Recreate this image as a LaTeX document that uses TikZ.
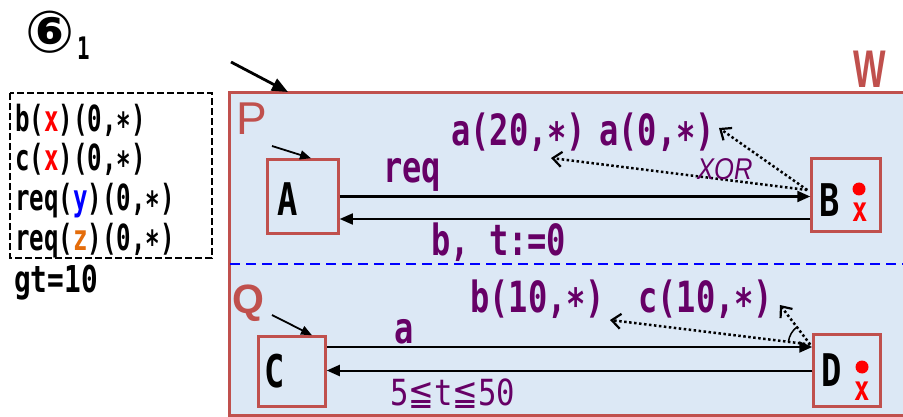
\documentclass[tikz,border=0pt]{standalone}
\usepackage{fontspec}
\usetikzlibrary{arrows.meta,calc}
\newfontfamily\boxfont[FakeStretch=0.67]{DejaVu Sans Mono}
\newfontfamily\gtfont[FakeStretch=0.75]{DejaVu Sans Mono}
\newfontfamily\labfont[FakeStretch=0.745]{DejaVu Sans Mono}
\newfontfamily\tgfont[FakeStretch=0.85]{DejaVu Sans Mono}
\newfontfamily\statefont[FakeStretch=0.75]{DejaVu Sans Mono}
\newfontfamily\symfont[FakeStretch=0.85]{DejaVu Sans}
\newfontfamily\circfont{DejaVu Sans}
\newfontfamily\xorfont[FakeStretch=0.85]{Liberation Sans}
\newfontfamily\pqfont{Liberation Sans}
\newfontfamily\wfont[FakeStretch=0.65]{Liberation Sans}
\definecolor{redbrown}{RGB}{192,80,77}
\definecolor{lblue}{RGB}{220,232,245}
\definecolor{purp}{RGB}{102,0,102}
\definecolor{orng}{RGB}{228,108,10}
\newcommand{\myast}{\raisebox{-0.18em}{*}}
\newcommand{\myle}{{\symfont ≦}}
\tikzset{
  stbox/.style={draw=redbrown, line width=2.5pt, inner sep=0pt, outer sep=1.25pt},
  lefttxt/.style={inner sep=0pt, anchor=base west, font=\boxfont\bfseries\fontsize{36}{40}\selectfont},
  plab/.style={inner sep=0pt, anchor=base west, text=purp, font=\labfont\bfseries\fontsize{43}{46}\selectfont},
  stlet/.style={inner sep=0pt, anchor=base, font=\statefont\bfseries\fontsize{45}{48}\selectfont},
  rdot/.style={circle, fill=red, minimum size=13pt, inner sep=0pt},
  rx/.style={inner sep=0pt, anchor=base, text=red, font=\statefont\bfseries\fontsize{34}{36}\selectfont},
  solarr/.style={line width=2.2pt, -{Triangle[length=13pt,width=11pt]}},
  dotarr/.style={line width=2.5pt, dash pattern=on 2.5pt off 2.5pt, -{Straight Barb[length=9pt,width=15pt,line width=2.2pt]}},
  initarr/.style={line width=1.8pt, -{Triangle[length=11pt,width=9pt]}}
}
\begin{document}
\begin{tikzpicture}[x=1pt,y=-1pt]
\useasboundingbox (0,0) rectangle (903,417);
\fill[white] (0,0) rectangle (903,417);
% title
\node[inner sep=0pt, font=\circfont\bfseries\fontsize{58}{60}\selectfont] (six) at (50,32.5) {⑥};
\node[inner sep=0pt, anchor=base west, font=\boxfont\bfseries\fontsize{31}{34}\selectfont] (sub) at (77,60) {1};
% left dashed box
\draw[line width=2.8pt, dash pattern=on 7pt off 3pt] (10,93) rectangle (212,258);
\node[lefttxt] (l1) at (15,132) {b(\textcolor{red}{x})(0,\myast)};
\node[lefttxt] (l2) at (15,171) {c(\textcolor{red}{x})(0,\myast)};
\node[lefttxt] (l3) at (15,211) {req(\textcolor{blue}{y})(0,\myast)};
\node[lefttxt] (l4) at (15,250) {req(\textcolor{orng}{z})(0,\myast)};
\node[inner sep=0pt, anchor=base west, font=\gtfont\bfseries\fontsize{37}{40}\selectfont] (gt) at (14,292) {gt=10};
% W frame
\draw[draw=redbrown, fill=lblue, line width=3pt] (229,93) rectangle (915,415);
\node[inner sep=0pt, anchor=base west, text=redbrown, font=\wfont\bfseries\fontsize{53}{56}\selectfont] (W) at (853,88) {W};
\coordinate (w0) at (231,62);
\coordinate (w1) at (288,92);
\draw[line width=2.8pt, -{Triangle[length=16pt,width=13pt]}] (w0) -- (w1);
\draw[blue, line width=2pt, dash pattern=on 10pt off 6pt] (230,264) -- (903,264);
\node[inner sep=0pt, anchor=base west, text=redbrown, font=\pqfont\fontsize{46}{50}\selectfont] (P) at (236,135) {P};
\node[inner sep=0pt, anchor=base west, text=redbrown, font=\pqfont\bfseries\fontsize{41}{44}\selectfont] (Q) at (232,313) {Q};
% states
\node[stbox, minimum width=71pt, minimum height=74pt] (A) at (303,196.5) {};
\node[stbox, minimum width=69pt, minimum height=73pt] (B) at (846,195) {};
\node[stbox, minimum width=67pt, minimum height=70pt] (C) at (292,371.5) {};
\node[stbox, minimum width=67pt, minimum height=72pt] (D) at (847,370.5) {};
\node[stlet] (Atxt) at (287.5,215) {A};
\node[stlet] (Btxt) at (830,217) {B};
\node[stlet] (Ctxt) at (275,387) {C};
\node[stlet] (Dtxt) at (832,386) {D};
\node[rdot] (bdot) at (859,189) {};
\node[rx] (bx) at (860,222) {x};
\node[rdot] (ddot) at (862,367) {};
\node[rx] (dx) at (862,400) {x};
% initial arrows
\coordinate (ia) at (272,146);
\coordinate (ic) at (272,315);
\draw[initarr] (ia) -- ([xshift=8pt]A.north);
\draw[initarr] (ic) -- ([xshift=20pt]C.north);
% transitions P
\draw[solarr] (A.east) -- (A.east -| B.west);
\draw[line width=1.6pt, -{Triangle[length=13pt,width=11pt]}] ([yshift=-24pt]B.west) -- ([yshift=-24pt]B.west -| A.east);
\coordinate (bs) at ([xshift=-3pt,yshift=5pt]B.west);
\coordinate (t1) at (551,158);
\coordinate (t2) at (719,128);
\draw[dotarr] (bs) -- (t1);
\draw[dotarr] (bs) -- (t2);
\node[plab] (req) at (383,183) {req};
\node[plab] (bt) at (431,255) {b, t:=0};
\node[plab] (a20) at (451,146) {a(20,\myast)};
\node[plab] (a0) at (599,146) {a(0,\myast)};
\node[inner sep=0pt, anchor=base west, text=purp, font=\xorfont\itshape\fontsize{30}{32}\selectfont] (xor) at (697,180) {XOR};
% transitions Q
\draw[solarr] ([yshift=24.5pt]C.east) -- ([yshift=24.5pt]C.east -| D.west);
\draw[line width=2pt, -{Triangle[length=13pt,width=11pt]}] (D.west) -- (D.west -| C.east);
\coordinate (ds) at ([xshift=-2pt,yshift=26pt]D.west);
\coordinate (t3) at (610,320);
\coordinate (t4) at (780,305);
\draw[dotarr] (ds) -- (t3);
\draw[dotarr] (ds) -- (t4);
\draw[line width=1.5pt] (ds) ++(173:22pt) arc[start angle=173, end angle=127, radius=22pt];
\node[plab] (a) at (394,343) {a};
\node[plab] (b10) at (470,312) {b(10,\myast)};
\node[plab] (c10) at (638,312) {c(10,\myast)};
\node[inner sep=0pt, anchor=base west, text=purp, font=\tgfont\fontsize{36}{38}\selectfont] (tg) at (390,405) {5\myle t\myle 50};
\end{tikzpicture}
\end{document}
